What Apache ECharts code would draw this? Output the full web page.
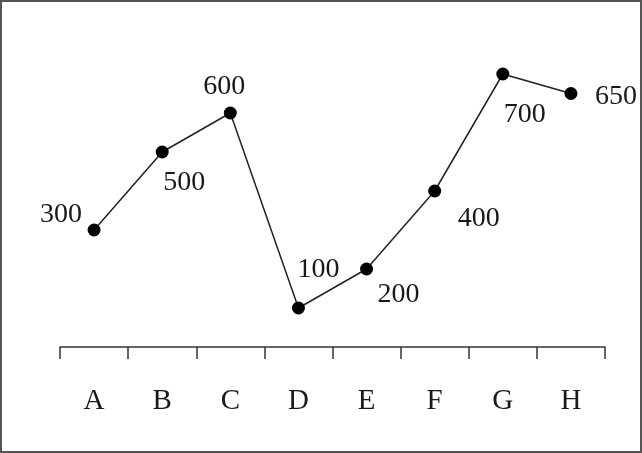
<!DOCTYPE html>
<html>
<head>
<meta charset="utf-8">
<script src="https://cdn.jsdelivr.net/npm/echarts@6/dist/echarts.min.js"></script>
<style>
html,body{margin:0;padding:0;background:#fff;}
#chart{width:642px;height:453px;box-sizing:border-box;border:2px solid #555;}
</style>
</head>
<body>
<div id="chart"></div>
<script>
const categories = ['A','B','C','D','E','F','G','H'];
const values = [300, 500, 600, 100, 200, 400, 700, 650];
// label offsets (style only) relative to each point
const labelOffsets = [[-33,-15],[22,31],[-6,-26],[20,-38],[32,26],[44,28],[22,41],[45,3]];

const chart = echarts.init(document.getElementById('chart'), null, {renderer:'canvas'});
const seriesData = values.map((v,i)=>({
  value: v,
  label: {offset: labelOffsets[i]}
}));
chart.setOption({
  animation:false,
  grid:{left:58, right:35, top:33, bottom:104},
  xAxis:{
    type:'category',
    data: categories,
    boundaryGap:true,
    axisLine:{show:true, lineStyle:{color:'#333', width:1.5}},
    axisTick:{show:true, length:12, lineStyle:{color:'#333', width:1.5}},
    axisLabel:{color:'#1a1a1a', fontFamily:'Liberation Serif', fontSize:29, margin:40},
    splitLine:{show:false}
  },
  yAxis:{
    type:'value', min:0, max:800,
    show:false
  },
  series:[{
    type:'line',
    data: seriesData,
    symbol:'circle',
    symbolSize:13,
    itemStyle:{color:'#000'},
    lineStyle:{color:'#222', width:1.5},
    label:{
      show:true,
      position:'inside',
      align:'center',
      verticalAlign:'middle',
      color:'#1a1a1a',
      fontFamily:'Liberation Serif',
      fontSize:28
    }
  }]
});
</script>
</body>
</html>
